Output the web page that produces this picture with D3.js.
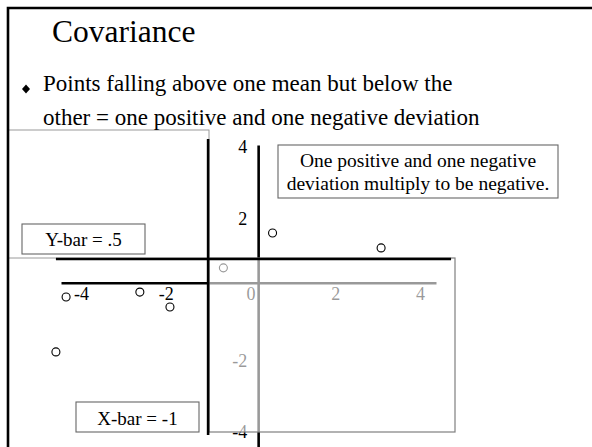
<!DOCTYPE html>
<html>
<head>
<meta charset="utf-8">
<script src="https://cdn.jsdelivr.net/npm/d3@7"></script>
<style>
  html, body { margin: 0; padding: 0; background: #fff; }
  svg { display: block; font-family: "Liberation Serif", "Times New Roman", serif; }
</style>
</head>
<body>
<svg id="slide" width="592" height="447"></svg>
<script>
// Scatter values and axis ticks
const xTickValues = [-4, -2, 0, 2, 4];
const yTickValues = [-4, -2, 2, 4];
const pointX = [-0.64, 0.52, 3.08, -4.35, -2.61, -1.90, -4.59];
const pointY = [0.25, 1.23, 0.81, -0.57, -0.43, -0.85, -2.11];

// Means shown as reference lines
const xBar = -1;
const yBar = 0.5;

// Slide text
const titleText = "Covariance";
const bulletLines = [
  "Points falling above one mean but below the",
  "other = one positive and one negative deviation"
];
const noteLines = ["One positive and one negative", "deviation multiply to be negative."];
const yBarLabel = "Y-bar = .5";
const xBarLabel = "X-bar = -1";

const svg = d3.select("#slide");
const serif = '"Liberation Serif", "Times New Roman", serif';

svg.append("rect").attr("width", 592).attr("height", 447).attr("fill", "#fff");

// Scales
const x = d3.scaleLinear().domain([-4.47, 4.375]).range([61, 436]);
const y = d3.scaleLinear().domain([-4.78, 3.70]).range([447, 145]);

// Where the axes cross
const hAxisAt = -0.17;
const vAxisAt = 0.18;

const chart = svg.append("g");

// Horizontal axis
const gx = chart.append("g")
  .attr("transform", `translate(0,${y(hAxisAt)})`)
  .call(d3.axisBottom(x).tickValues(xTickValues).tickSize(0).tickPadding(4).tickFormat(d => String(d)));
gx.select(".domain").attr("stroke", "#000").attr("stroke-width", 2.6);
gx.selectAll("text")
  .style("font-family", serif).style("font-size", "18px")
  .attr("fill", "#000");

// Vertical axis
const gy = chart.append("g")
  .attr("transform", `translate(${x(vAxisAt)},0)`)
  .call(d3.axisLeft(y).tickValues(yTickValues).tickSize(0).tickPadding(11).tickFormat(d => String(d)));
gy.select(".domain").attr("stroke", "#000").attr("stroke-width", 2.6);
gy.selectAll("text")
  .style("font-family", serif).style("font-size", "18px")
  .attr("fill", "#000").attr("dy", "18.5px");

// Points
chart.append("g").selectAll("circle")
  .data(pointX.map((v, i) => [v, pointY[i]]))
  .join("circle")
  .attr("cx", d => x(d[0]))
  .attr("cy", d => y(d[1]))
  .attr("r", 4)
  .attr("fill", "#fff")
  .attr("stroke", "#000")
  .attr("stroke-width", 1.1);

// Translucent panel over the lower-right quadrant
svg.append("rect")
  .attr("x", 209).attr("y", 258).attr("width", 246).attr("height", 174)
  .attr("fill", "#fff").attr("fill-opacity", 0.6)
  .attr("stroke", "#7f7f7f").attr("stroke-width", 1.2);

// Opaque panel at the upper left
svg.append("rect")
  .attr("x", 8).attr("y", 130).attr("width", 201).attr("height", 128)
  .attr("fill", "#fff").attr("stroke", "#9a9a9a").attr("stroke-width", 1);

// Slide frame
svg.append("path")
  .attr("d", "M8,447V8H592")
  .attr("fill", "none").attr("stroke", "#000").attr("stroke-width", 2.6);

// Mean lines
svg.append("line")
  .attr("x1", x(-4.59)).attr("x2", x(4.73))
  .attr("y1", y(yBar)).attr("y2", y(yBar))
  .attr("stroke", "#000").attr("stroke-width", 2.6);
svg.append("line")
  .attr("x1", x(xBar)).attr("x2", x(xBar))
  .attr("y1", y(3.87)).attr("y2", y(-4.44))
  .attr("stroke", "#000").attr("stroke-width", 2.6);

// Labelled boxes
function labelBox(bx, by, bw, bh, lines, fontSize, baselines) {
  const g = svg.append("g");
  g.append("rect")
    .attr("x", bx).attr("y", by).attr("width", bw).attr("height", bh)
    .attr("fill", "#fff").attr("stroke", "#666").attr("stroke-width", 1.1);
  lines.forEach((t, i) => {
    g.append("text")
      .attr("x", bx + bw / 2).attr("y", baselines[i])
      .attr("text-anchor", "middle")
      .style("font-family", serif).style("font-size", fontSize + "px")
      .attr("fill", "#000")
      .text(t);
  });
}
labelBox(22, 224, 123, 30, [yBarLabel], 19, [246]);
labelBox(76, 402, 123, 30, [xBarLabel], 19, [425]);
labelBox(278, 145, 280, 53, noteLines, 19.5, [166.5, 190]);

// Title
svg.append("text")
  .attr("x", 52).attr("y", 42)
  .style("font-family", serif).style("font-size", "31.5px").attr("fill", "#000")
  .text(titleText);

// Bullet
svg.append("path")
  .attr("d", "M26,84.5L30,89L26,93.5L22,89Z")
  .attr("fill", "#000");
bulletLines.forEach((t, i) => {
  svg.append("text")
    .attr("x", 43).attr("y", 91 + i * 34)
    .style("font-family", serif).style("font-size", "23px").attr("fill", "#000")
    .text(t);
});
</script>
</body>
</html>
